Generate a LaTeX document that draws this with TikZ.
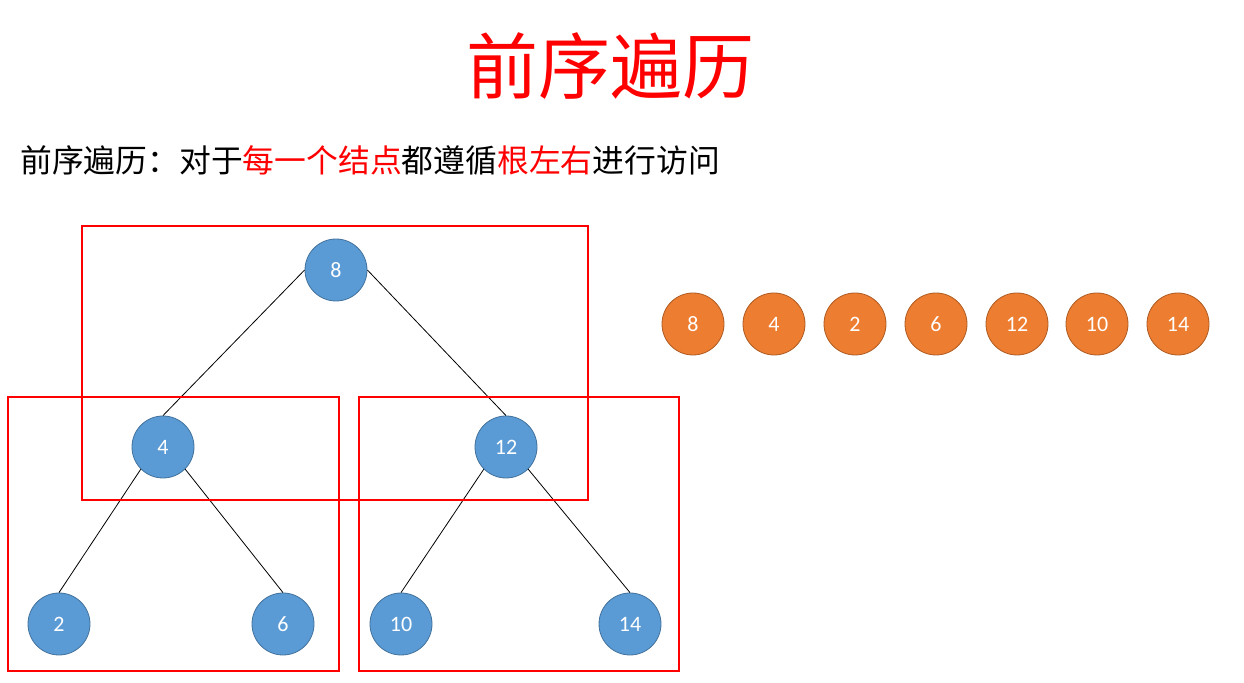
\documentclass[tikz,border=0pt]{standalone}
\usepackage{fontspec}
\setmainfont{Carlito}
\newfontfamily\cjk{Noto Sans CJK SC}
\usepackage{xcolor}
\definecolor{treeblue}{RGB}{91,155,213}
\definecolor{treebluerule}{RGB}{65,113,156}
\definecolor{listorange}{RGB}{237,125,49}
\definecolor{listorangerule}{RGB}{174,90,33}
\definecolor{markred}{RGB}{255,0,0}

\begin{document}
\begin{tikzpicture}[x=0.5pt,y=-0.5pt,
      tree/.style={circle,draw=treebluerule,fill=treeblue,minimum size=31pt,
      inner sep=0pt,text=white,font=\fontsize{11}{13}\selectfont},
      seq/.style={circle,draw=listorangerule,fill=listorange,minimum size=31pt,
      inner sep=0pt,text=white,font=\fontsize{11}{13}\selectfont},
      edge/.style={draw=black,line width=0.4pt},
      part/.style={draw=markred,line width=1pt}
    ]
    \useasboundingbox (0,0) rectangle (1244,683);
    \node[text=markred,font=\cjk\fontsize{36}{40}\selectfont] (title) at (610,66) {前序遍历};
    \node[anchor=west,font=\cjk\fontsize{15.9}{18}\selectfont,inner sep=0pt] (rule) at (20,160)
      {前序遍历：对于\textcolor{markred}{每一个结点}都遵循\textcolor{markred}{根左右}进行访问};
    \node[tree] at (336,270) (n8) {8};
    \node[tree] at (163,447) (n4) {4};
    \node[tree] at (506,447) (n12) {12};
    \node[tree] at (59,624) (n2) {2};
    \node[tree] at (283,624) (n6) {6};
    \node[tree] at (401,624) (n10) {10};
    \node[tree] at (630,624) (n14) {14};
    \draw[edge] (n8.west) -- (n4.north);
    \draw[edge] (n8.east) -- (n12.north);
    \draw[edge] (n4.south west) -- (n2.north);
    \draw[edge] (n4.south east) -- (n6.north);
    \draw[edge] (n12.south west) -- (n10.north);
    \draw[edge] (n12.south east) -- (n14.north);
    \draw[part] (82,226) rectangle (588,500);
    \draw[part] (8,397) rectangle (339,671);
    \draw[part] (359,397) rectangle (679,671);
    \node[seq] at (693,324) (s1) {8};
    \node[seq] at (774,324) (s2) {4};
    \node[seq] at (855,324) (s3) {2};
    \node[seq] at (936,324) (s4) {6};
    \node[seq] at (1017,324) (s5) {12};
    \node[seq] at (1097,324) (s6) {10};
    \node[seq] at (1178,324) (s7) {14};
  \end{tikzpicture}
\end{document}
